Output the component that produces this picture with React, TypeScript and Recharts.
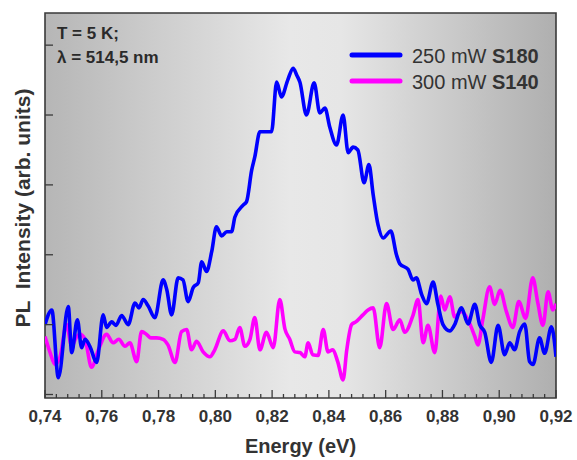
import { LineChart, Line, XAxis, YAxis, ReferenceArea } from 'recharts';

// S180 @ 250 mW
const blueEnergy = [
  0.74, 0.7424, 0.7447, 0.7482, 0.7494, 0.7514, 0.7529, 0.7541, 0.7558, 0.7582,
  0.7605, 0.7617, 0.7635, 0.765, 0.767, 0.7693, 0.7717, 0.7731, 0.7746, 0.7763,
  0.7787, 0.7816, 0.7829, 0.7846, 0.7869, 0.7886, 0.7904, 0.7922, 0.794, 0.7952,
  0.7969, 0.7987, 0.8004, 0.8022, 0.804, 0.8057, 0.8069, 0.8098, 0.811, 0.8128,
  0.8139, 0.8157, 0.8174, 0.8198, 0.8216, 0.8233, 0.8255, 0.8274, 0.8287, 0.8298,
  0.8321, 0.8348, 0.8368, 0.8386, 0.8403, 0.8427, 0.845, 0.8468, 0.8485, 0.8502,
  0.8524, 0.8541, 0.8556, 0.8573, 0.8591, 0.8618, 0.8638, 0.865, 0.8679, 0.8696,
  0.8708, 0.8727, 0.8744, 0.8767, 0.8784, 0.8802, 0.8826, 0.8843, 0.8867, 0.889,
  0.8914, 0.8931, 0.8949, 0.8972, 0.8996, 0.9019, 0.9037, 0.9054, 0.9072, 0.909,
  0.9107, 0.9119, 0.9142, 0.916, 0.9184, 0.92,
];
const blueIntensity = [
  1.0, 1.21, 0.24, 1.26, 0.6, 1.07, 0.67, 0.79, 0.69, 0.46,
  1.14, 0.96, 1.04, 0.99, 1.13, 1.0, 1.31, 1.24, 1.36, 1.27,
  1.1, 1.64, 1.5, 1.14, 1.67, 1.64, 1.33, 1.53, 1.6, 1.9,
  1.76, 2.04, 2.4, 2.27, 2.33, 2.33, 2.54, 2.71, 2.76, 3.21,
  3.4, 3.76, 3.76, 3.76, 4.47, 4.26, 4.5, 4.67, 4.57, 4.47,
  4.0, 4.46, 4.03, 4.1, 3.83, 3.57, 4.0, 3.46, 3.54, 3.5,
  3.03, 3.29, 2.86, 2.43, 2.24, 2.34, 2.0, 1.87, 1.79, 1.64,
  1.67, 1.43, 1.3, 1.61, 1.29, 1.0, 0.91, 1.0, 1.24, 1.01,
  1.29, 1.0, 0.89, 0.46, 0.99, 0.57, 0.74, 0.64, 0.9, 1.01,
  0.47, 0.43, 0.81, 0.59, 0.97, 0.54,
];

// S140 @ 300 mW
const pinkEnergy = [
  0.74, 0.7418, 0.7435, 0.7453, 0.7476, 0.7494, 0.7509, 0.7523, 0.7541, 0.7564,
  0.7588, 0.7617, 0.764, 0.766, 0.7682, 0.7699, 0.7723, 0.774, 0.7758, 0.7773,
  0.7793, 0.7816, 0.7833, 0.7858, 0.7881, 0.7899, 0.7916, 0.7934, 0.7957, 0.7981,
  0.7998, 0.8028, 0.8051, 0.8069, 0.8086, 0.8104, 0.8122, 0.8139, 0.8157, 0.818,
  0.8204, 0.8227, 0.8245, 0.8262, 0.828, 0.8298, 0.8315, 0.8327, 0.8343, 0.8362,
  0.838, 0.8397, 0.8414, 0.8431, 0.845, 0.8463, 0.848, 0.8495, 0.852, 0.8538,
  0.8556, 0.8579, 0.8603, 0.8626, 0.865, 0.8667, 0.8696, 0.8714, 0.8732, 0.8749,
  0.8773, 0.8794, 0.8808, 0.8826, 0.8843, 0.8867, 0.889, 0.8914, 0.8925, 0.8942,
  0.8966, 0.8984, 0.9003, 0.9025, 0.9048, 0.9069, 0.9093, 0.9118, 0.9136, 0.9154,
  0.9172, 0.9189, 0.92,
];
const pinkIntensity = [
  0.83, 0.6, 0.43, 0.54, 1.0, 0.69, 0.81, 0.86, 0.79, 0.39,
  0.64, 0.86, 0.74, 0.79, 0.69, 0.74, 0.47, 0.9, 0.86, 0.81,
  0.81, 0.79, 0.71, 0.46, 0.9, 0.93, 0.64, 0.76, 0.61, 0.54,
  0.64, 0.91, 0.77, 0.79, 0.96, 0.69, 0.79, 1.1, 0.64, 0.89,
  0.67, 1.36, 0.94, 0.79, 0.61, 0.6, 0.54, 0.74, 0.57, 0.56,
  0.93, 0.61, 0.64, 0.47, 0.21, 0.64, 1.0, 1.04, 1.14, 1.21,
  1.24, 0.67, 1.3, 0.93, 1.07, 0.89, 1.13, 1.36, 0.74, 0.99,
  0.6, 1.41, 1.21, 1.4, 1.11, 1.19, 1.07, 0.83, 0.71, 1.07,
  1.54, 1.29, 1.49, 1.19, 0.96, 1.33, 1.09, 1.67, 1.31, 0.99,
  1.47, 1.21, 1.3,
];

const majorTicks = [0.74, 0.76, 0.78, 0.8, 0.82, 0.84, 0.86, 0.88, 0.9, 0.92];
const yTicks = [0, 1, 2, 3, 4, 5];
const legendRows = [
  { color: '#0000ff', power: '250 mW ', sample: 'S180' },
  { color: '#ff00ff', power: '300 mW ', sample: 'S140' },
];
const notes = ['T = 5 K;', 'λ = 514,5 nm'];

const xTicks: number[] = [];
for (let i = 0; i <= 45; i++) xTicks.push(Math.round((0.74 + i * 0.004) * 1000) / 1000);

const blueData = blueEnergy.map((e, i) => ({ e, v: blueIntensity[i] }));
const pinkData = pinkEnergy.map((e, i) => ({ e, v: pinkIntensity[i] }));

const FONT = 'Arial, "Liberation Sans", Helvetica, sans-serif';
const AXIS = '#3a3a3a';

function XTick(props: any) {
  const { x, y, payload } = props;
  const major = majorTicks.some((t) => Math.abs(t - payload.value) < 1e-6);
  return (
    <g>
      <line x1={x} x2={x} y1={y} y2={y - (major ? 8 : 4)} stroke={AXIS} strokeWidth={1.3} />
      {major && (
        <text x={x} y={y + 24} textAnchor="middle" fontSize={17} fontWeight="bold" fill="#333" fontFamily={FONT}>
          {payload.value.toFixed(2).replace('.', ',')}
        </text>
      )}
    </g>
  );
}

function YTick(props: any) {
  const { x, y } = props;
  return <line x1={x} x2={x + 8} y1={y} y2={y} stroke={AXIS} strokeWidth={1.3} />;
}

export default function App() {
  return (
    <div style={{ position: 'fixed', left: 0, top: 0, width: 577, height: 460, background: '#fff' }}>
      <LineChart width={577} height={460} margin={{ top: 13, right: 21, left: 0, bottom: 0 }}>
        <defs>
          <linearGradient id="bgGrad" x1="0" y1="0" x2="1" y2="0">
            <stop offset="0%" stopColor="#b6b6b6" />
            <stop offset="48%" stopColor="#e8e8e8" />
            <stop offset="58%" stopColor="#e6e6e6" />
            <stop offset="100%" stopColor="#afafaf" />
          </linearGradient>
        </defs>
        <XAxis
          dataKey="e"
          type="number"
          domain={[0.74, 0.92]}
          ticks={xTicks}
          interval={0}
          allowDataOverflow
          height={62}
          axisLine={false}
          tickLine={false}
          tickSize={0}
          tickMargin={0}
          tick={<XTick />}
          label={{ value: 'Energy (eV)', position: 'insideBottom', offset: 7, fontSize: 20, fontWeight: 'bold', fill: '#333', fontFamily: FONT }}
        />
        <YAxis
          type="number"
          domain={[-0.05, 5.46]}
          ticks={yTicks}
          interval={0}
          allowDataOverflow
          width={45}
          axisLine={false}
          tickLine={false}
          tickSize={0}
          tickMargin={0}
          tick={<YTick />}
          label={{
            content: () => (
              <text
                x={22}
                y={208}
                transform="rotate(-90 22 208)"
                textAnchor="middle"
                dominantBaseline="central"
                fontSize={21}
                fontWeight="bold"
                fill="#333"
                fontFamily={FONT}
                style={{ whiteSpace: 'pre' }}
              >
                {'PL  Intensity (arb. units)'}
              </text>
            ),
          }}
        />
        <ReferenceArea x1={0.74} x2={0.92} y1={-0.05} y2={5.46} fill="url(#bgGrad)" fillOpacity={1} stroke={AXIS} strokeWidth={1.6} ifOverflow="visible" />
        <Line data={pinkData} dataKey="v" type="monotone" stroke="#ff00ff" strokeWidth={3.6} dot={false} isAnimationActive={false} name="300 mW S140" />
        <Line data={blueData} dataKey="v" type="monotone" stroke="#0000ff" strokeWidth={3.6} dot={false} isAnimationActive={false} name="250 mW S180" />
      </LineChart>
      {/* annotation + legend overlay, drawn above the plot background */}
      <svg width={577} height={460} style={{ position: 'absolute', left: 0, top: 0, pointerEvents: 'none' }}>
        {notes.map((n, i) => (
          <text key={n} x={57} y={39 + i * 24} fontSize={17} fontWeight="bold" fill="#2a2a2a" fontFamily={FONT}>
            {n}
          </text>
        ))}
        {legendRows.map((r, i) => (
          <g key={r.sample}>
            <line x1={352} x2={400} y1={55 + i * 26} y2={55 + i * 26} stroke={r.color} strokeWidth={5} strokeLinecap="round" />
            <text x={412} y={63 + i * 26} fontSize={20} fill="#333" fontFamily={FONT} style={{ whiteSpace: 'pre' }}>
              {r.power}
              <tspan fontWeight="bold">{r.sample}</tspan>
            </text>
          </g>
        ))}
      </svg>
    </div>
  );
}
